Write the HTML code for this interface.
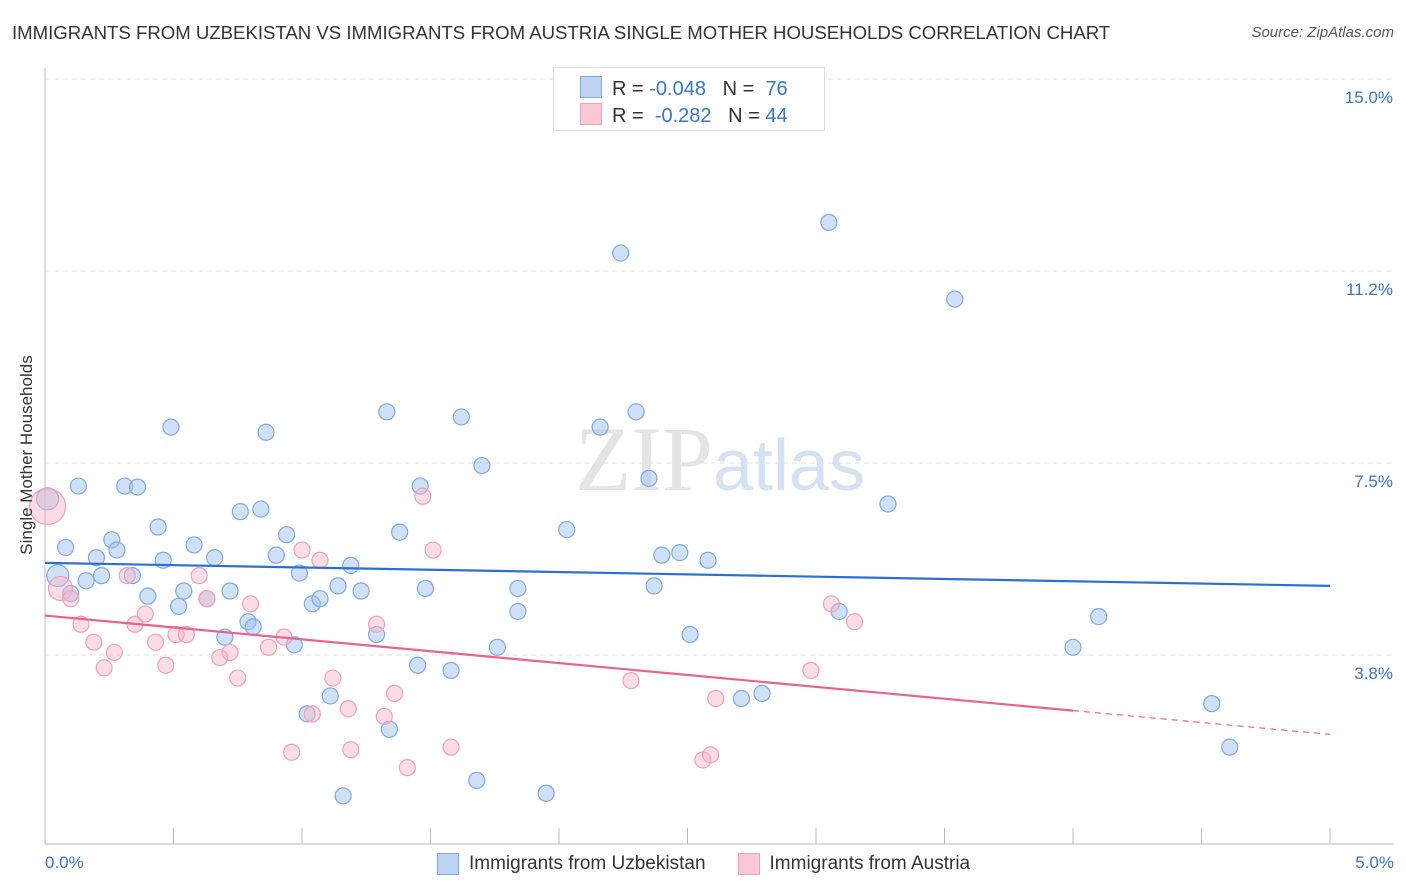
<!DOCTYPE html>
<html><head><meta charset="utf-8"><style>
body{margin:0;background:#fff;font-family:"Liberation Sans",sans-serif;}
#wrap{position:relative;width:1406px;height:892px;overflow:hidden;}
</style></head><body>
<div id="wrap">
<div style="position:absolute;left:12px;top:22px;font-size:18.6px;color:#333;white-space:nowrap;">IMMIGRANTS FROM UZBEKISTAN VS IMMIGRANTS FROM AUSTRIA SINGLE MOTHER HOUSEHOLDS CORRELATION CHART</div>
<div style="position:absolute;right:12px;top:24px;font-size:15px;color:#555;font-style:italic;">Source: ZipAtlas.com</div>
<svg id="svg" width="1406" height="892" style="position:absolute;left:0;top:0"></svg>
</div>
<script>
const blueX=[0.01,0.05,0.08,0.1,0.13,0.16,0.2,0.22,0.26,0.28,0.31,0.34,0.36,0.4,0.44,0.46,0.49,0.52,0.54,0.58,0.63,0.66,0.70,0.72,0.76,0.79,0.81,0.84,0.86,0.90,0.94,0.97,0.99,1.02,1.04,1.07,1.11,1.14,1.16,1.19,1.23,1.29,1.33,1.34,1.38,1.45,1.46,1.48,1.58,1.62,1.68,1.70,1.76,1.84,1.84,1.95,2.03,2.16,2.24,2.30,2.35,2.37,2.40,2.47,2.51,2.58,2.71,2.79,3.05,3.09,3.28,3.54,4.00,4.10,4.54,4.61];
const blueY=[6.8,5.3,5.85,4.95,7.05,5.2,5.65,5.3,6.0,5.8,7.05,5.3,7.03,4.9,6.25,5.6,8.2,4.7,5.0,5.9,4.85,5.65,4.1,5.0,6.55,4.4,4.3,6.6,8.1,5.7,6.1,3.95,5.35,2.6,4.75,4.85,2.95,5.1,1.0,5.5,5.0,4.15,8.5,2.3,6.15,3.55,7.05,5.05,3.45,8.4,1.3,7.45,3.9,5.05,4.6,1.05,6.2,8.2,11.6,8.5,7.2,5.1,5.7,5.75,4.15,5.6,2.9,3.0,12.2,4.6,6.7,10.7,3.9,4.5,2.8,1.95];
const pinkX=[0.01,0.06,0.1,0.14,0.19,0.23,0.27,0.32,0.35,0.39,0.43,0.47,0.51,0.55,0.6,0.63,0.68,0.72,0.75,0.8,0.87,0.93,0.96,1.0,1.04,1.07,1.12,1.18,1.19,1.29,1.32,1.36,1.41,1.47,1.51,1.58,2.28,2.56,2.59,2.61,2.98,3.06,3.15];
const pinkY=[6.65,5.05,4.85,4.35,4.0,3.5,3.8,5.3,4.35,4.55,4.0,3.55,4.15,4.15,5.3,4.85,3.7,3.8,3.3,4.75,3.9,4.1,1.85,5.8,2.6,5.6,3.3,2.7,1.9,4.35,2.55,3.0,1.55,6.85,5.8,1.95,3.25,1.7,1.8,2.9,3.45,4.75,4.4];
const pinkR=[18,12];
const yTicks=[3.75,7.5,11.25,15];
const yTickLabels=["3.8%","7.5%","11.2%","15.0%"];
const blueLine=[5.55,5.1];
const pinkLine=[4.52,2.2];
const NS="http://www.w3.org/2000/svg";
const svg=document.getElementById('svg');
const X=v=>45+v*257, Y=v=>79+(15-v)*51.2;
function mk(t,a){const e=document.createElementNS(NS,t);for(const k in a)e.setAttribute(k,a[k]);svg.appendChild(e);return e;}
yTicks.forEach((t,i)=>{
 const g=mk('line',{x1:45,x2:1394,y1:Y(t),y2:Y(t),stroke:'#ddd','stroke-dasharray':'5,4'});
 
 
 const l=mk('text',{x:1393,y:Y(t)+24,'text-anchor':'end','font-size':'17',fill:'#3a75c4','font-family':'Liberation Sans'});
 l.textContent=yTickLabels[i];
 
 
});
const ax=mk('line',{x1:45,x2:45,y1:68,y2:844,stroke:'#bbb'});


const bx=mk('line',{x1:45,x2:1394,y1:844,y2:844,stroke:'#bbb'});


for(let i=1;i<=10;i++){const t=mk('line',{x1:X(i*0.5),x2:X(i*0.5),y1:828,y2:844,stroke:'#bbb'});
 
 }
const wm=mk('text',{x:720,y:490,'text-anchor':'middle','font-size':'92','font-family':'Liberation Serif',fill:'#e4e4e4'});
wm.innerHTML='ZIP<tspan font-family="Liberation Sans" fill="#d5e2f3" font-size="72">atlas</tspan>';


blueX.forEach((v,i)=>{const c=mk('circle',{cx:X(v),cy:Y(blueY[i]),r:i<2?11:8,fill:'rgba(160,195,240,0.5)',stroke:'#7fa9e0','stroke-width':1.2});
 
 });
pinkX.forEach((v,i)=>{const c=mk('circle',{cx:X(v),cy:Y(pinkY[i]),r:i<2?pinkR[i]:8,fill:'rgba(248,180,200,0.45)',stroke:'#f0a0b8','stroke-width':1.2});
 
 });
const bl=mk('line',{x1:X(0),y1:Y(blueLine[0]),x2:X(5),y2:Y(blueLine[1]),stroke:'#2a6fd6','stroke-width':2.2});


const f=4.0/5, pm=pinkLine[0]+(pinkLine[1]-pinkLine[0])*f;
const pl=mk('line',{x1:X(0),y1:Y(pinkLine[0]),x2:X(4),y2:Y(pm),stroke:'#e8638f','stroke-width':2.2});


const pd=mk('line',{x1:X(4),y1:Y(pm),x2:X(5),y2:Y(pinkLine[1]),stroke:'#e8638f','stroke-width':1.2,'stroke-dasharray':'6,5'});


</script>
<div style="position:absolute;left:-93px;top:445px;width:240px;text-align:center;transform:rotate(-90deg);font-size:17px;color:#333;white-space:nowrap;">Single Mother Households</div>
<div style="position:absolute;left:45px;top:853px;font-size:17px;color:#3a75c4;">0.0%</div>
<div style="position:absolute;right:12px;top:853px;font-size:17px;color:#3a75c4;">5.0%</div>
<div style="position:absolute;left:553px;top:67px;width:270px;height:62px;border:1px solid #ddd;background:#fff;font-size:20px;color:#333;">
 <div style="position:absolute;left:26px;top:8px;white-space:pre;"><span style="display:inline-block;width:20px;height:20px;background:#bcd3f3;border:1px solid #7fa9e0;vertical-align:-3px;margin-right:10px"></span>R = <span style="color:#3a75c4">-0.048</span>   N =  <span style="color:#3a75c4">76</span></div>
 <div style="position:absolute;left:26px;top:35px;white-space:pre;"><span style="display:inline-block;width:20px;height:20px;background:#fbc8d6;border:1px solid #f0a0b8;vertical-align:-3px;margin-right:10px"></span>R =  <span style="color:#3a75c4">-0.282</span>   N = <span style="color:#3a75c4">44</span></div>
</div>
<div style="position:absolute;left:437px;top:852px;font-size:19px;color:#333;display:flex;align-items:center;gap:32px;white-space:nowrap;line-height:24px;">
 <span style="display:flex;align-items:center;"><span style="display:inline-block;width:20px;height:20px;background:#bcd3f3;border:1px solid #7fa9e0;margin-right:10px"></span>Immigrants from Uzbekistan</span>
 <span style="display:flex;align-items:center;"><span style="display:inline-block;width:20px;height:20px;background:#fbc8d6;border:1px solid #f0a0b8;margin-right:10px"></span>Immigrants from Austria</span>
</div>
</body></html>
